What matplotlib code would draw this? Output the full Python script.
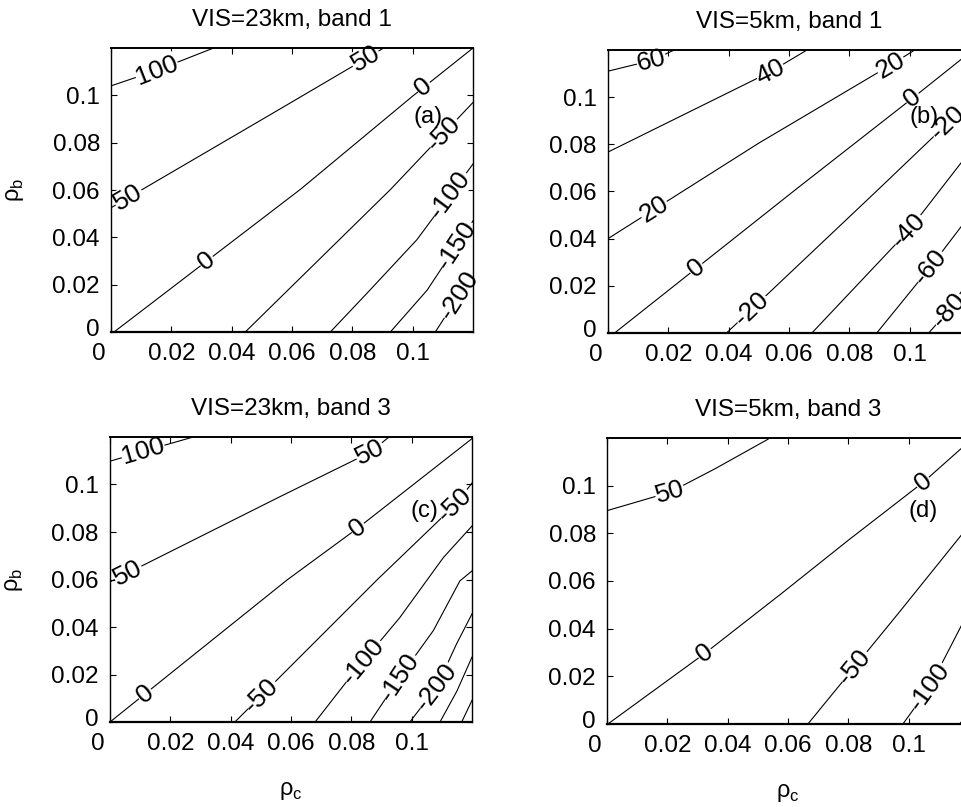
import numpy as np
import matplotlib.pyplot as plt
from matplotlib.transforms import ScaledTranslation

plt.rcParams['font.family'] = ['Liberation Sans', 'DejaVu Sans']

tick_vals = [0, 0.02, 0.04, 0.06, 0.08, 0.1]
tick_text = ['0', '0.02', '0.04', '0.06', '0.08', '0.1']

titles = ['VIS=23km, band 1', 'VIS=5km, band 1', 'VIS=23km, band 3', 'VIS=5km, band 3']
tags = ['(a)', '(b)', '(c)', '(d)']
tag_rc = [0.105, 0.1047, 0.1044, 0.1048]
tag_rb = [0.0908, 0.0915, 0.0888, 0.0895]

# contour lines: level, points (rho_c, rho_b), label spots (rho_c)
a_levels = [100, 50, 0, -50, -100, -150, -200]
a_rc = [[0, 0.015, 0.034],
        [0, 0.0561, 0.0904],
        [0.001, 0.0628, 0.1003, 0.12],
        [0.0445, 0.0927, 0.12],
        [0.0727, 0.0848, 0.1014, 0.12],
        [0.0926, 0.1048, 0.12],
        [0.1075, 0.12]]
a_rb = [[0.104, 0.1105, 0.12],
        [0.0525, 0.0943, 0.12],
        [0, 0.0603, 0.100, 0.12],
        [0, 0.0603, 0.097],
        [0, 0.0163, 0.039, 0.071],
        [0, 0.0177, 0.047],
        [0, 0.0248]]
a_lab = [[0.0152], [0.0058, 0.0844], [0.0317, 0.1037], [0.1103], [0.1125], [0.1147], [0.1153]]

b_levels = [60, 40, 20, 0, -20, -40, -60, -80]
b_rc = [[0, 0.0144, 0.022],
        [0, 0.0538, 0.066],
        [0, 0.05, 0.0937, 0.1017],
        [0.0022, 0.0628, 0.101, 0.12],
        [0.0393, 0.0894, 0.12],
        [0.0676, 0.0997, 0.12],
        [0.0891, 0.1069, 0.12],
        [0.1063, 0.113, 0.12]]
b_rb = [[0.111, 0.1155, 0.12],
        [0.0767, 0.1107, 0.12],
        [0.040, 0.0805, 0.1136, 0.12],
        [0, 0.0614, 0.0996, 0.119],
        [0, 0.0606, 0.098],
        [0, 0.0435, 0.077],
        [0, 0.028, 0.050],
        [0, 0.0096, 0.023]]
b_lab = [[0.0144], [0.0538], [0.0153, 0.0937], [0.0293, 0.101], [0.0476, 0.1126],
         [0.0997], [0.1069], [0.113]]

c_levels = [100, 50, 0, -50, -100, -150, -200, -250, -300]
c_rc = [[0, 0.018, 0.0276],
        [0, 0.0564, 0.0862, 0.0925],
        [0, 0.0587, 0.0822, 0.12],
        [0.0414, 0.0885, 0.1144, 0.12],
        [0.068, 0.0796, 0.0961, 0.1105, 0.12],
        [0.0862, 0.0961, 0.1072, 0.116, 0.12],
        [0.0994, 0.1083, 0.1149, 0.12],
        [0.1094, 0.115, 0.12],
        [0.1166, 0.12]]
c_rb = [[0.1098, 0.1165, 0.12],
        [0.059, 0.0949, 0.1135, 0.12],
        [0, 0.0598, 0.0817, 0.1193],
        [0, 0.0598, 0.0914, 0.1006],
        [0, 0.0189, 0.044, 0.0692, 0.0825],
        [0, 0.0189, 0.0385, 0.0594, 0.0636],
        [0, 0.0147, 0.0329, 0.0455],
        [0, 0.013, 0.0273],
        [0, 0.0091]]
c_lab = [[0.011], [0.006, 0.0862], [0.0116, 0.0822], [0.0503, 0.1144], [0.084],
         [0.0961], [0.1083], [], []]

d_levels = [50, 0, -50, -100, -150]
d_rc = [[0, 0.0208, 0.0357, 0.0534],
        [0.0003, 0.0324, 0.0578, 0.0799, 0.1048, 0.1178, 0.12],
        [0.0666, 0.0965, 0.1178, 0.12],
        [0.0981, 0.107, 0.1178, 0.12],
        [0.1169, 0.12]]
d_rb = [[0.0895, 0.0972, 0.107, 0.1195],
        [0, 0.0296, 0.0547, 0.077, 0.1014, 0.116, 0.1195],
        [0, 0.0463, 0.0798, 0.084],
        [0, 0.0156, 0.0421, 0.047],
        [0, 0.005]]
d_lab = [[0.0208], [0.0324, 0.1048], [0.0821], [0.107], []]

panels = [(a_levels, a_rc, a_rb, a_lab), (b_levels, b_rc, b_rb, b_lab),
          (c_levels, c_rc, c_rb, c_lab), (d_levels, d_rc, d_rb, d_lab)]

# axes boxes measured in pixels of the 962x807 original
boxes = [[0.1154, 0.5886, 0.3763, 0.3519],
         [0.6320, 0.5874, 0.3763, 0.3507],
         [0.1143, 0.1053, 0.3763, 0.3532],
         [0.6310, 0.1029, 0.3763, 0.3544]]

fig = plt.figure(figsize=(9.62, 8.07), dpi=100)

for k in range(4):
    ax = fig.add_axes(boxes[k])
    levels, rcs, rbs, labs = panels[k]
    for lev, rc, rb, lab in zip(levels, rcs, rbs, labs):
        rc = np.array(rc)
        rb = np.array(rb)
        ax.plot(rc, rb, color='black', lw=0.8, zorder=2)
        for x0 in lab:
            i = int(np.clip(np.searchsorted(rc, x0), 1, len(rc) - 1))
            ang = np.degrees(np.arctan2(rb[i] - rb[i - 1], rc[i] - rc[i - 1]))
            y0 = np.interp(x0, rc, rb)
            ax.text(x0, y0, str(lev), fontsize=19, rotation=ang,
                    transform_rotates_text=True, rotation_mode='anchor',
                    ha='center', va='center', zorder=3,
                    bbox=dict(fc='white', ec='none', pad=0.2))
    ax.text(tag_rc[k], tag_rb[k], tags[k], fontsize=17, ha='center', va='center', zorder=4)

    ax.set_xlim(0, 0.12)
    ax.set_ylim(0, 0.12)
    ax.set_xticks(tick_vals)
    ax.set_xticklabels(tick_text)
    ax.set_yticks(tick_vals)
    ax.set_yticklabels(tick_text)
    ax.tick_params(direction='in', top=True, right=True, length=4, width=0.8,
                   labelsize=17.5, pad=8)
    for side in ax.spines:
        ax.spines[side].set_zorder(5)
        ax.spines[side].set_linewidth(1.0)
    ax.spines['bottom'].set_linewidth(1.6)
    ax.spines['top'].set_linewidth(1.4)

    # matlab puts the x "0" a bit left of the corner
    lab0 = ax.get_xticklabels()[0]
    lab0.set_transform(lab0.get_transform() + ScaledTranslation(-9 / 72, 0, fig.dpi_scale_trans))
    laby = ax.get_yticklabels()[0]
    laby.set_transform(laby.get_transform() + ScaledTranslation(0, 3 / 72, fig.dpi_scale_trans))

    ax.set_title(titles[k], fontsize=17.5, pad=16)
    if k % 2 == 0:
        ax.set_ylabel('ρ$_\\mathregular{b}$', fontsize=17, labelpad=19)
    if k >= 2:
        ax.set_xlabel('ρ$_\\mathregular{c}$', fontsize=17, labelpad=18)

fig.savefig('out.png', dpi=100)
